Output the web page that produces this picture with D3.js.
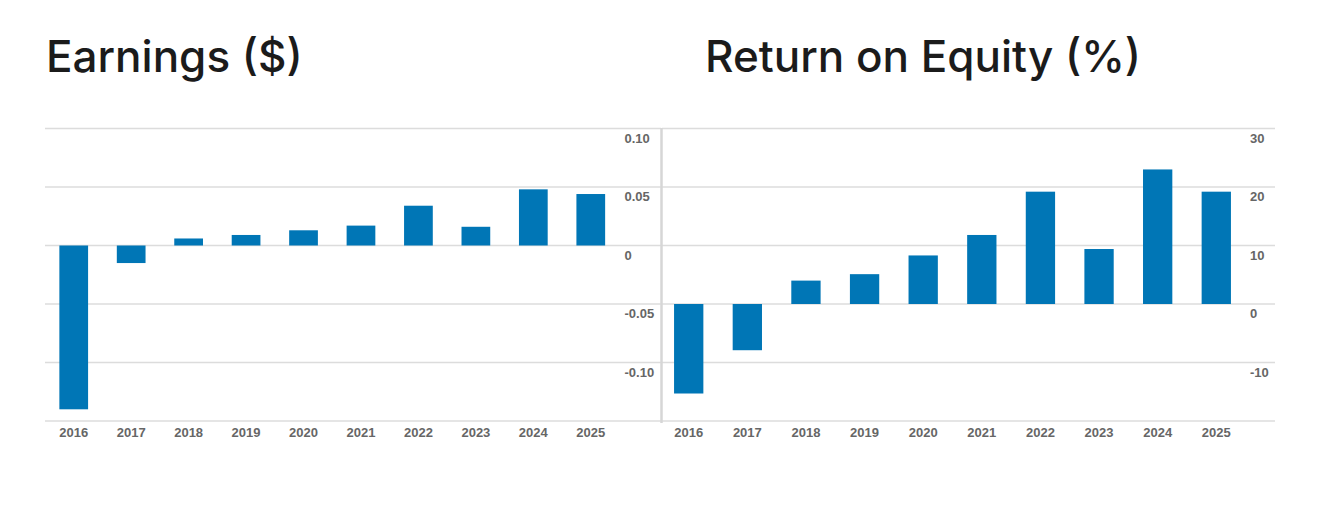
<!DOCTYPE html>
<html>
<head>
<meta charset="utf-8">
<script src="https://cdn.jsdelivr.net/npm/d3@7"></script>
<style>
  html, body { margin: 0; padding: 0; background: #fff; }
  svg { display: block; }
</style>
</head>
<body>
<svg id="chart" width="1320" height="506"></svg>
<script>
const years = ["2016","2017","2018","2019","2020","2021","2022","2023","2024","2025"];
const earnings = [-0.140, -0.015, 0.006, 0.009, 0.013, 0.017, 0.034, 0.016, 0.048, 0.044];
const roe = [-15.3, -7.9, 4.0, 5.1, 8.3, 11.8, 19.2, 9.4, 23.0, 19.2];
const earningsTicks = [0.10, 0.05, 0, -0.05, -0.10];
const earningsTickLabels = ["0.10", "0.05", "0", "-0.05", "-0.10"];
const roeTicks = [30, 20, 10, 0, -10];
const roeTickLabels = ["30", "20", "10", "0", "-10"];
const titles = ["Earnings ($)", "Return on Equity (%)"];

const svg = d3.select("#chart");
const BAR = "#0076b6";
const GRID = "#dcdcdc";
const LABEL = "#666666";
const FONT = "'Liberation Sans', Arial, Helvetica, sans-serif";

function drawPanel(opt) {
  const g = svg.append("g");
  const y = d3.scaleLinear().domain(opt.domain).range([421, 128.5]);
  const x = d3.scaleBand().domain(years).range(opt.bandRange)
    .paddingInner(0.5).paddingOuter(0.25);

  // title
  g.append("text")
    .attr("x", opt.titleX).attr("y", 72)
    .attr("font-family", "Inter, 'Noto Sans', sans-serif")
    .attr("font-weight", 500)
    .attr("font-size", 44)
    .attr("fill", "#1b1b1b")
    .text(opt.title);

  // gridlines
  g.selectAll("line.grid").data(opt.ticks.concat([opt.domain[0]])).join("line")
    .attr("class", "grid")
    .attr("x1", opt.gridX[0]).attr("x2", opt.gridX[1])
    .attr("y1", d => y(d)).attr("y2", d => y(d))
    .attr("stroke", GRID).attr("stroke-width", 1.5);

  // y labels
  g.selectAll("text.ylab").data(opt.ticks).join("text")
    .attr("class", "ylab")
    .attr("x", opt.labelX).attr("y", d => y(d) + 14)
    .attr("font-family", FONT).attr("font-weight", "bold").attr("font-size", 13)
    .attr("fill", LABEL)
    .text((d, i) => opt.tickLabels[i]);

  // bars
  g.selectAll("rect.bar").data(opt.values).join("rect")
    .attr("class", "bar")
    .attr("x", (d, i) => x(years[i]))
    .attr("width", x.bandwidth())
    .attr("y", d => y(Math.max(0, d)))
    .attr("height", d => Math.abs(y(d) - y(0)))
    .attr("fill", BAR);

  // x axis labels
  const ax = g.append("g").attr("transform", "translate(0,425)")
    .call(d3.axisBottom(x).tickSize(0).tickPadding(0));
  ax.select(".domain").remove();
  ax.selectAll("text")
    .attr("font-family", FONT).attr("font-weight", "bold").attr("font-size", 13)
    .attr("fill", LABEL).attr("dy", "0.95em");
  return g;
}

drawPanel({
  title: titles[0], titleX: 46,
  domain: [-0.15, 0.10], ticks: earningsTicks, tickLabels: earningsTickLabels,
  bandRange: [45, 619.5], gridX: [45, 661], labelX: 624.5, values: earnings
});
drawPanel({
  title: titles[1], titleX: 705,
  domain: [-20, 30], ticks: roeTicks, tickLabels: roeTickLabels,
  bandRange: [659.4, 1245.6], gridX: [662, 1275], labelX: 1250, values: roe
});

// separator line
svg.append("line")
  .attr("x1", 661.5).attr("x2", 661.5).attr("y1", 128).attr("y2", 423)
  .attr("stroke", "#d6d6d6").attr("stroke-width", 2.5);
</script>
</body>
</html>
